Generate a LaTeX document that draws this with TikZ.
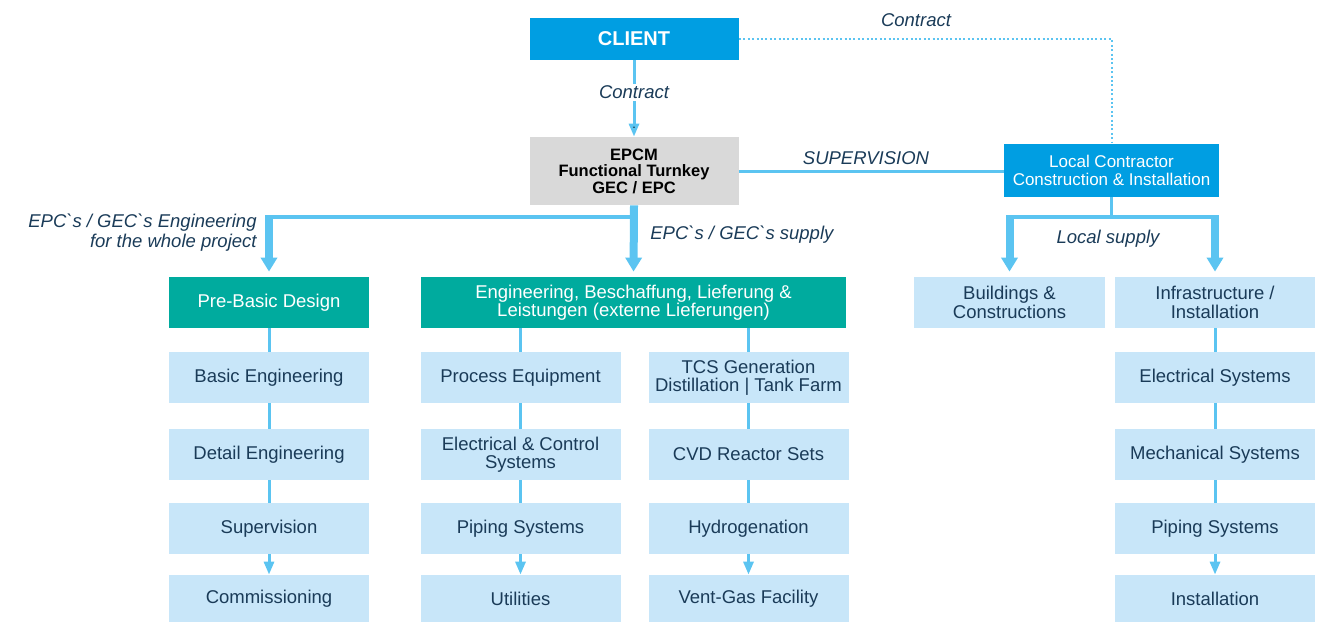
\documentclass[tikz,border=0pt]{standalone}
\usepackage{fontspec}
\newfontfamily\diagfont{Liberation Sans}
\usetikzlibrary{arrows.meta}
\definecolor{clientblue}{HTML}{009EE2}
\definecolor{epcmgray}{HTML}{D9D9D9}
\definecolor{boxteal}{HTML}{00AB9E}
\definecolor{boxblue}{HTML}{C8E6F9}
\definecolor{linkblue}{HTML}{5BC4F1}
\definecolor{navy}{HTML}{1A3B58}
\newcommand{\bq}{\char"60\relax}

\begin{document}
\begin{tikzpicture}[x=0.5pt,y=-0.5pt,
  every node/.style={inner sep=1pt, align=center},
  box/.style={fill=boxblue, text=navy, minimum width=100pt, minimum height=25.5pt,
    font=\diagfont\fontsize{9.25}{9.25}\selectfont},
  tealbox/.style={box, fill=boxteal, text=white},
  headbox/.style={fill=clientblue, text=white},
  lbl/.style={text=navy, font=\diagfont\itshape\fontsize{9.25}{10}\selectfont},
  link/.style={draw=linkblue, line width=1.5pt},
  tip/.style={-{Triangle[width=5pt,length=6.5pt]}},
  bar/.style={draw=linkblue, line width=2pt},
  fat/.style={draw=linkblue, line width=4pt, -{Triangle[width=8pt,length=7pt]}, shorten >=2.5pt},
  dotline/.style={draw=linkblue, line width=1pt, dash pattern=on 1pt off 1.2pt}]
\useasboundingbox (0,0) rectangle (1332,622);

% top level
\node[headbox, minimum width=104.5pt, minimum height=21pt,
  font=\diagfont\bfseries\fontsize{10}{10}\selectfont] (client) at (634,39) {CLIENT};
\node[fill=epcmgray, minimum width=104.5pt, minimum height=34pt,
  font=\diagfont\bfseries\fontsize{8.25}{8.25}\selectfont] (epcm) at (634,171)
  {EPCM\\Functional Turnkey\\GEC / EPC};
\node[headbox, minimum width=107.5pt, minimum height=26.5pt,
  font=\diagfont\fontsize{8.5}{9}\selectfont] (local) at (1111.5,170)
  {Local Contractor\\Construction \& Installation};

% second level
\node[tealbox] (prebasic) at (269,302.5) {Pre-Basic Design};
\node[tealbox, minimum width=212.5pt] (eng) at (633.5,302.5)
  {Engineering, Beschaffung, Lieferung \&\\Leistungen (externe Lieferungen)};
\node[box, minimum width=95.5pt] (build) at (1009.5,302.5) {Buildings \&\\Constructions};
\node[box] (infra) at (1215,302.5) {Infrastructure /\\Installation};

% columns
\node[box] (basic) at (269,377.5) {Basic Engineering};
\node[box] (detail) at (269,454.5) {Detail Engineering};
\node[box] (superv) at (269,528.5) {Supervision};
\node[box, minimum height=23.5pt] (commis) at (269,598.5) {Commissioning};

\node[box] (proc) at (520.5,377.5) {Process Equipment};
\node[box] (elec) at (520.5,454.5) {Electrical \& Control\\Systems};
\node[box] (piping) at (520.5,528.5) {Piping Systems};
\node[box, minimum height=23.5pt] (util) at (520.5,598.5) {Utilities};

\node[box] (tcs) at (748.5,377.5) {TCS Generation\\Distillation | Tank Farm};
\node[box] (cvd) at (748.5,454.5) {CVD Reactor Sets};
\node[box] (hydro) at (748.5,528.5) {Hydrogenation};
\node[box, minimum height=23.5pt] (vent) at (748.5,598.5) {Vent-Gas Facility};

\node[box] (elsys) at (1215,377.5) {Electrical Systems};
\node[box] (mech) at (1215,454.5) {Mechanical Systems};
\node[box] (pipesys) at (1215,528.5) {Piping Systems};
\node[box, minimum height=23.5pt] (install) at (1215,598.5) {Installation};

% contracts
\path[link,tip] (client) edge node[pos=0.42, fill=white, lbl] {Contract} (epcm);
\draw[dotline] (client.east) -| (local.north);
\node[lbl] (contractlbl) at (916,20) {Contract};
\draw[link] (epcm.east) -- (epcm.east -| local.west);
\node[lbl] (supervlbl) at (866,158) {SUPERVISION};

% supply forks
\coordinate (fork) at (634,217);
\coordinate (forktop) at (634,215);
\draw[bar] (fork) -- (fork -| prebasic.north);
\draw[fat] (forktop -| prebasic.north) -- (prebasic.north);
\draw[fat] (epcm.south) -- (eng.north);
\node[lbl, anchor=east, align=right] (englbl) at (259,233)
  {EPC\bq s / GEC\bq s Engineering\\for the whole project};
\node[lbl, anchor=west] (supplylbl) at (648,235) {EPC\bq s / GEC\bq s supply};

\draw[link] (local.south) -- (local.south |- fork);
\draw[bar] (fork -| build.north) -- (fork -| infra.north);
\draw[fat] (forktop -| build.north) -- (build.north);
\draw[fat] (forktop -| infra.north) -- (infra.north);
\node[lbl] (locallbl) at (1108,239) {Local supply};

% column links
\path[link] (prebasic.south) edge (basic.north)
  (basic.south) edge (detail.north)
  (detail.south) edge (superv.north);
\draw[link,tip] (superv.south) -- (commis.north);

\path[link] (eng.south -| proc.north) edge (proc.north)
  (proc.south) edge (elec.north)
  (elec.south) edge (piping.north);
\draw[link,tip] (piping.south) -- (util.north);

\path[link] (eng.south -| tcs.north) edge (tcs.north)
  (tcs.south) edge (cvd.north)
  (cvd.south) edge (hydro.north);
\draw[link,tip] (hydro.south) -- (vent.north);

\path[link] (infra.south) edge (elsys.north)
  (elsys.south) edge (mech.north)
  (mech.south) edge (pipesys.north);
\draw[link,tip] (pipesys.south) -- (install.north);
\end{tikzpicture}
\end{document}
